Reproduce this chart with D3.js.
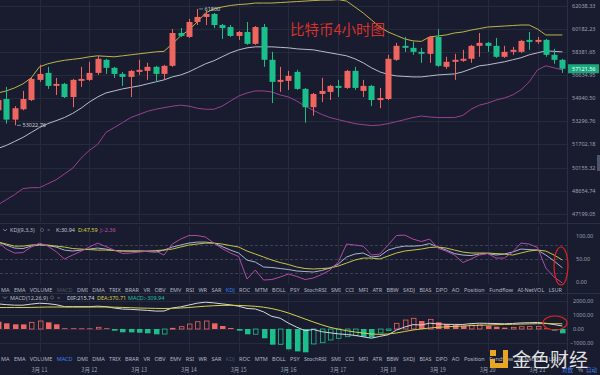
<!DOCTYPE html>
<html>
<head>
<meta charset="utf-8">
<script src="https://cdn.jsdelivr.net/npm/d3@7"></script>
<style>
  html, body { margin: 0; padding: 0; background: #181c2e; }
  svg { display: block; font-family: "Noto Sans", "Noto Sans CJK SC", sans-serif; }
</style>
</head>
<body>
<div id="chart"></div>
<script>
// candles, 4h each
const opens = [54081, 54889, 53421, 54155, 54815, 56289, 56809, 55846, 55994, 55036,
  56215, 56289, 56809, 57797, 57189, 56733, 56510, 56885, 56961, 57265,
  56733, 57341, 59873, 59564, 60747, 61150, 61392, 60505, 60344, 59641,
  59950, 59023, 60344, 57797, 56141, 56215, 56885, 55625, 54301, 55257,
  55404, 55846, 55699, 56961, 55478, 55846, 54815, 54889, 57797, 58868,
  58714, 58405, 58253, 59564, 57265, 57645, 57721, 57873, 58868, 59100,
  58868, 58025, 58405, 58405, 59332, 59177, 59332, 58177, 57797];
const highs = [55183, 55773, 54375, 55478, 56436, 57417, 57265, 56436, 56068, 56362,
  57265, 57645, 58101, 57873, 57265, 56885, 57037, 57797, 57569, 57341,
  57417, 60182, 60263, 60989, 61800, 61635, 61473, 60585, 60505, 60027,
  60747, 60424, 60585, 58405, 57265, 56961, 57037, 55699, 55330, 56436,
  55920, 56289, 57037, 57265, 56289, 55920, 55699, 58177, 59100, 59564,
  59177, 58714, 59641, 60182, 58025, 58253, 58560, 58946, 59873, 59177,
  59486, 58868, 58791, 59332, 59950, 59564, 59409, 58637, 57873];
const lows = [53934, 53140, 53022.76, 54081, 54742, 56141, 55625, 55183, 54962, 54301,
  55773, 56215, 56657, 56733, 56436, 55846, 55036, 56657, 56289, 56141,
  56289, 57265, 59564, 59486, 60505, 60505, 60263, 59409, 59564, 59332,
  58946, 58946, 57265, 54595, 55404, 55552, 55552, 53201, 53707, 54668,
  54815, 55036, 55625, 55552, 55036, 54375, 54228, 54815, 57721, 58405,
  58177, 57569, 57569, 57265, 57113, 56289, 57645, 57569, 58025, 58405,
  57949, 57949, 58177, 58329, 58560, 59023, 58025, 57493, 56809];
const closes = [54815, 53421, 54228, 54889, 56362, 56733, 55846, 55994, 55036, 56289,
  56362, 56809, 57873, 57189, 56733, 56510, 56961, 57037, 57265, 56733,
  57341, 59873, 59641, 60747, 61150, 61392, 60505, 60263, 59641, 59950,
  59023, 60344, 57797, 56141, 56289, 56583, 55625, 54301, 55257, 55478,
  55846, 55699, 56961, 55699, 55846, 54815, 54962, 57873, 58868, 58714,
  58405, 58253, 59564, 57341, 57645, 57797, 57873, 58868, 59100, 58868,
  58025, 58405, 58560, 59255, 59177, 59332, 58177, 57797, 57121.56];

// bollinger bands
const bollUp = [55330, 55478, 55699, 55994, 56436, 57265, 57493, 57645, 57759, 57835,
  57911, 58025, 58101, 58063, 58025, 58101, 58177, 58253, 58329, 58404,
  58443, 59023, 59641, 60105, 60747, 61473, 61796, 61957, 62078, 62159,
  62199, 62280, 62280, 62280, 62320, 62361, 62401, 62442, 62482, 62522,
  62522, 62563, 62442, 61957, 61473, 60908, 60344, 59950, 59680, 59409,
  59254, 59216, 59564, 59641, 59718, 59873, 59950, 60105, 60222, 60344,
  60384, 60424, 60464, 60505, 60505, 60182, 59718, 59718, 59718];
const bollMid = [51436, 51636, 51908, 52182, 52524, 52866, 53140, 53347, 53567, 53861,
  54228, 54668, 55036, 55330, 55478, 55625, 55736, 55846, 55994, 56141,
  56289, 56510, 56657, 56885, 57189, 57493, 57721, 58025, 58329, 58559,
  58713, 58791, 58791, 58791, 58752, 58713, 58636, 58597, 58559, 58443,
  58329, 58215, 58101, 57873, 57569, 57189, 56885, 56695, 56583, 56547,
  56510, 56510, 56583, 56657, 56695, 56733, 56885, 57113, 57341, 57417,
  57531, 57645, 57797, 57949, 58177, 58329, 58481, 58443, 58404];
const bollLow = [47758, 48078, 48399, 48782, 48845, 48845, 49098, 49351, 49731, 50111,
  50772, 51304, 51702, 52524, 52866, 53208, 53567, 53788, 54008, 54155,
  54265, 54375, 54448, 54375, 54228, 54155, 54155, 54375, 54742, 55109,
  55330, 55478, 55478, 55404, 55183, 55036, 54742, 54375, 54081, 53788,
  53567, 53421, 53276, 53140, 53071, 53003, 53037, 53140, 53276, 53421,
  53567, 53677, 53604, 53567, 53567, 53567, 53714, 54155, 54448, 54595,
  54815, 54962, 55183, 55552, 56141, 57037, 57341, 57189, 57037];

// KDJ(9,3,3)
const kLine = [86.8, 80.3, 73.8, 72.7, 78, 80.3, 79.2, 76, 69.4, 67.3,
  69.4, 71.6, 73.8, 71.6, 68.4, 67.3, 67.3, 67.3, 66.2, 65.1,
  69.4, 76, 80.3, 84.6, 86.8, 86.8, 84.6, 77, 69.4, 63,
  47.7, 43.4, 32.6, 31.5, 29.3, 27.1, 23.9, 22.8, 21.7, 25,
  30.4, 39, 54.3, 60.8, 63, 54.3, 56.4, 69.4, 75, 78,
  78, 79.2, 83.5, 76, 69.4, 61.8, 58.6, 57.5, 60.8, 61.8,
  58.6, 60.8, 65.1, 71.6, 70.5, 69.4, 58.6, 45.6, 30.94];
const dLine = [86.8, 82.5, 78, 78, 80.3, 81.4, 80.3, 78, 76, 72.7,
  71.6, 70.5, 69.4, 69.4, 68.4, 67.3, 67.3, 67.3, 67.3, 68.4,
  69.4, 71.6, 76, 80.3, 82.5, 84.6, 84.6, 82.5, 79.2, 76,
  67.3, 60.8, 54.3, 47.7, 42.3, 38, 32.6, 29.3, 28.2, 29.3,
  30.4, 34.7, 41.2, 47.7, 52, 52, 50, 56.4, 63, 67.3,
  69.4, 71.6, 75, 76, 73.8, 69.4, 65.1, 63, 63, 63,
  61.8, 60.8, 58.6, 63, 67.3, 69.4, 67.3, 58.6, 47.59];
const jLine = [86.8, 71.6, 62.9, 64, 76, 84.6, 78, 66, 50, 58.6,
  67, 76, 84.6, 77, 69.4, 62, 63, 65, 67, 67,
  58.6, 82.5, 93.3, 101, 101, 97.7, 84.6, 72.7, 63, 55.3,
  6.5, 26, 4.3, 5.4, 10.9, 17.4, 12, 5.4, 8.7, 16.3,
  26, 43.4, 82.5, 80.3, 78, 58.6, 60.8, 80.3, 101, 102,
  93.3, 88, 93.3, 73.8, 67, 58.6, 42.3, 50, 58.6, 61.8,
  52, 52, 65, 84.6, 82.5, 75, 30.4, 10.9, -2.36];

// MACD(12,26,9)
const difLine = [1795, 1738, 1703, 1700, 1780, 1842, 1809, 1739, 1596, 1596,
  1594, 1594, 1631, 1596, 1497, 1424, 1401, 1366, 1330, 1281,
  1284, 1503, 1582, 1713, 1845, 1913, 1867, 1793, 1727, 1625,
  1466, 1433, 1224, 897, 773, 417, 128, -119, -35, -190,
  -272, -347, -396, -454, -561, -655, -529, -412, -83, 141,
  312, 285, 416, 361, 335, 329, 322, 386, 414, 404,
  390, 369, 396, 433, 449, 468, 411, 318, 215.74];
const deaLine = [1535, 1535, 1535, 1535, 1542, 1557, 1571, 1571, 1571, 1571,
  1571, 1571, 1571, 1571, 1557, 1542, 1521, 1499, 1485, 1471,
  1464, 1478, 1499, 1535, 1585, 1628, 1664, 1685, 1692, 1685,
  1656, 1621, 1557, 1457, 1321, 1142, 928, 714, 500, 300,
  121, -14, -121, -214, -286, -357, -386, -357, -286, -179,
  -71, 0, 71, 121, 157, 186, 214, 243, 264, 286,
  307, 321, 336, 350, 364, 378, 386, 378, 370.71];
const macdHist = [520, 405, 335, 330, 475, 570, 475, 335, 50, 50,
  45, 45, 120, 50, -120, -235, -240, -265, -310, -380,
  -360, 50, 165, 355, 520, 570, 405, 215, 70, -120,
  -380, -375, -665, -1120, -1095, -1450, -1600, -1665, -1070, -980,
  -785, -665, -550, -480, -550, -595, -285, -110, 405, 640,
  765, 570, 690, 480, 355, 285, 215, 285, 300, 235,
  165, 95, 120, 165, 170, 180, 50, -120, -309.94];

// axes
const priceTicks = [62038.33, 60182.23, 58381.65, 56634.95, 54940.50, 53296.76, 51702.18, 50155.32, 48654.74, 47199.05];
const kdjTicks = [100, 50, 0];
const kdjLevels = [80, 50, 20];
const macdTicks = [2000, 1000, 0, -1000];
const dayLabels = ['3月 11', '3月 12', '3月 13', '3月 14', '3月 15', '3月 16', '3月 17', '3月 18', '3月 19', '3月 20', '3月 21'];
const dayIndex = [5, 11, 17, 23, 29, 35, 41, 47, 53, 59, 65];
const tabs = ['MA', 'EMA', 'VOLUME', 'MACD', 'DMI', 'DMA', 'TRIX', 'BRAR', 'VR', 'OBV', 'EMV', 'RSI', 'WR', 'SAR', 'KDJ', 'ROC', 'MTM', 'BOLL', 'PSY', 'StochRSI', 'SMI', 'CCI', 'MFI', 'ATR', 'BBW', 'SKDJ', 'BIAS', 'DPO', 'AO', 'Position', 'Fundflow', 'AI-NetVOL', 'LSUR'];

const chart = {

    svg: null,
    plotRight: 567,
    upColor: '#ef6560',
    downColor: '#1bbf8b',
    gridColor: '#252a3d',
    textColor: '#9ba0b2',

    x: d3.scaleLinear().domain([0, closes.length - 1]).range([-2, 562.4]),
    yPrice: d3.scaleLog().domain([47199.05, 62038.33]).range([213.7, 6]),
    yKdj: d3.scaleLinear().domain([0, 100]).range([282, 236]),
    yMacd: d3.scaleLinear().domain([-1000, 2000]).range([343, 301]),

    drawGrid: function () {
        const svg = this.svg;
        //horizontal lines on price ticks
        svg.append('g').selectAll('line').data(priceTicks).enter().append('line')
            .attr('x1', 0).attr('x2', this.plotRight)
            .attr('y1', (d) => Math.round(this.yPrice(d)) + 0.5)
            .attr('y2', (d) => Math.round(this.yPrice(d)) + 0.5)
            .attr('stroke', this.gridColor);
        //vertical lines on day boundaries, through all three panels
        [[0, 222], [226, 284], [294, 352]].forEach((band) => {
            svg.append('g').selectAll('line').data(dayIndex).enter().append('line')
                .attr('x1', (d) => Math.round(this.x(d)) + 0.5)
                .attr('x2', (d) => Math.round(this.x(d)) + 0.5)
                .attr('y1', band[0]).attr('y2', band[1])
                .attr('stroke', this.gridColor);
        });
        svg.append('g').selectAll('line').data(macdTicks).enter().append('line')
            .attr('x1', 0).attr('x2', this.plotRight)
            .attr('y1', (d) => Math.round(this.yMacd(d)) + 0.5)
            .attr('y2', (d) => Math.round(this.yMacd(d)) + 0.5)
            .attr('stroke', this.gridColor);
        //panel separators and price column edge
        [223.5, 293.5].forEach((y) => {
            svg.append('line').attr('x1', 0).attr('x2', 600).attr('y1', y).attr('y2', y)
                .attr('stroke', '#2a2f43');
        });
        svg.append('line').attr('x1', this.plotRight + 0.5).attr('x2', this.plotRight + 0.5)
            .attr('y1', 0).attr('y2', 352).attr('stroke', '#2a2f43');
    },

    drawMain: function () {
        const x = this.x, y = this.yPrice;
        const svg = this.svg;

        svg.append('clipPath').attr('id', 'mainClip')
            .append('rect').attr('x', 0).attr('y', 0).attr('width', this.plotRight).attr('height', 223);
        const g = svg.append('g').attr('clip-path', 'url(#mainClip)');

        //bollinger lines
        const bands = [[bollUp, '#bdb449'], [bollMid, '#b9bccb'], [bollLow, '#9b3f92']];
        bands.forEach((b) => {
            g.append('path').datum(b[0])
                .attr('d', d3.line().x((d, i) => x(i)).y((d) => y(d)))
                .attr('fill', 'none').attr('stroke', b[1]).attr('stroke-width', 1);
        });

        const idx = d3.range(closes.length);
        const color = (i) => closes[i] >= opens[i] ? this.upColor : this.downColor;

        g.append('g').selectAll('line').data(idx).enter().append('line')
            .attr('x1', (i) => Math.round(x(i)) + 0.5)
            .attr('x2', (i) => Math.round(x(i)) + 0.5)
            .attr('y1', (i) => y(highs[i]))
            .attr('y2', (i) => y(lows[i]))
            .attr('stroke', color);

        g.append('g').selectAll('rect').data(idx).enter().append('rect')
            .attr('x', (i) => Math.round(x(i)) - 2.5)
            .attr('width', 6)
            .attr('y', (i) => y(Math.max(opens[i], closes[i])))
            .attr('height', (i) => Math.max(1, y(Math.min(opens[i], closes[i])) - y(Math.max(opens[i], closes[i]))))
            .attr('fill', color);

        //high and low markers
        const hi = d3.maxIndex(highs), lo = d3.minIndex(lows);
        [[hi, highs[hi], 0], [lo, lows[lo], 0]].forEach((m) => {
            const mx = Math.round(x(m[0])) + 2, my = y(m[1]);
            g.append('line').attr('x1', mx).attr('x2', mx + 4).attr('y1', my).attr('y2', my)
                .attr('stroke', '#c8ccd8').attr('stroke-width', 0.6);
            g.append('text').attr('x', mx + 5.5).attr('y', my + 2)
                .attr('font-size', 5.5).attr('fill', '#c8ccd8')
                .text(m[1] % 1 ? d3.format('.2f')(m[1]) : m[1]);
        });

        //title
        svg.append('text').attr('x', 290).attr('y', 35)
            .attr('font-family', '"Noto Sans CJK SC", sans-serif')
            .attr('font-size', 14.5).attr('fill', '#d8302c')
            .text('比特币4小时图');

        //price axis
        svg.append('g').selectAll('text').data(priceTicks).enter().append('text')
            .attr('x', 572).attr('y', (d) => y(d) + 2)
            .attr('font-size', 5.5).attr('fill', this.textColor)
            .text((d) => d3.format('.2f')(d));

        const last = closes[closes.length - 1];
        svg.append('rect').attr('x', 568).attr('y', y(last) - 4.5).attr('width', 31).attr('height', 9)
            .attr('fill', '#17a97b');
        svg.append('text').attr('x', 572).attr('y', y(last) + 2)
            .attr('font-size', 5.5).attr('fill', '#ffffff')
            .text(d3.format('.2f')(last));

        svg.append('rect').attr('x', 597).attr('y', 155).attr('width', 3).attr('height', 16)
            .attr('fill', '#4d536a');
    },

    drawLegend: function (y, name, items) {
        const svg = this.svg;
        svg.append('path').attr('d', `M3,${y - 3} l2,2 l2,-2`).attr('fill', 'none')
            .attr('stroke', this.textColor).attr('stroke-width', 0.7);
        svg.append('text').attr('x', 10).attr('y', y).attr('font-size', 5.5)
            .attr('fill', '#b9bdca').text(name.text);
        svg.append('circle').attr('cx', name.gear).attr('cy', y - 2).attr('r', 1.6)
            .attr('fill', 'none').attr('stroke', '#6d7388').attr('stroke-width', 0.6);
        svg.append('text').attr('x', name.gear + 5).attr('y', y).attr('font-size', 5.5)
            .attr('fill', '#6d7388').text('×');
        items.forEach((it) => {
            svg.append('text').attr('x', it.x).attr('y', y).attr('font-size', 5.5)
                .attr('fill', it.c).text(it.t);
        });
    },

    drawKdj: function () {
        const x = this.x, y = this.yKdj;
        const svg = this.svg;

        svg.append('g').selectAll('line').data(kdjLevels).enter().append('line')
            .attr('x1', 0).attr('x2', this.plotRight)
            .attr('y1', (d) => Math.round(y(d)) + 0.5).attr('y2', (d) => Math.round(y(d)) + 0.5)
            .attr('stroke', '#3a4057').attr('stroke-dasharray', '3,2');

        [[kLine, '#a9b3d4'], [dLine, '#c9c448'], [jLine, '#b24aa8']].forEach((l) => {
            svg.append('path').datum(l[0])
                .attr('d', d3.line().x((d, i) => x(i)).y((d) => y(d)))
                .attr('fill', 'none').attr('stroke', l[1]).attr('stroke-width', 1);
        });

        svg.append('g').selectAll('text').data(kdjTicks).enter().append('text')
            .attr('x', 576).attr('y', (d) => y(d) + 2)
            .attr('font-size', 5.5).attr('fill', this.textColor)
            .text((d) => d3.format('.2f')(d));

        const n = kLine.length - 1;
        this.drawLegend(232, { text: 'KDJ(9,3,3)', gear: 42 }, [
            { t: 'K:' + kLine[n], x: 56, c: '#c5c9d6' },
            { t: 'D:' + dLine[n], x: 78, c: '#d8d24a' },
            { t: 'J:' + jLine[n], x: 100, c: '#c051b5' }
        ]);

        //red marker around the last values
        svg.append('ellipse').attr('cx', 561).attr('cy', 266).attr('rx', 7).attr('ry', 19)
            .attr('fill', 'none').attr('stroke', '#e0241d').attr('stroke-width', 1.2);
    },

    drawMacd: function () {
        const x = this.x, y = this.yMacd;
        const svg = this.svg;
        const idx = d3.range(macdHist.length);
        const zero = y(0);

        //hollow when the bar grows against the previous one
        const hollow = (i) => i > 0 && macdHist[i] > macdHist[i - 1];
        const color = (i) => macdHist[i] >= 0 ? this.upColor : this.downColor;

        svg.append('g').selectAll('rect').data(idx).enter().append('rect')
            .attr('x', (i) => Math.round(x(i)) - 2 + (hollow(i) ? 0.5 : 0))
            .attr('width', (i) => hollow(i) ? 4.5 : 5.5)
            .attr('y', (i) => Math.min(zero, y(macdHist[i])))
            .attr('height', (i) => Math.max(0.8, Math.abs(y(macdHist[i]) - zero)))
            .attr('fill', (i) => hollow(i) ? 'none' : color(i))
            .attr('stroke', (i) => hollow(i) ? color(i) : 'none')
            .attr('stroke-width', 0.8);

        [[difLine, '#d4d7e3'], [deaLine, '#d8cf4a']].forEach((l) => {
            svg.append('path').datum(l[0])
                .attr('d', d3.line().x((d, i) => x(i)).y((d) => y(d)))
                .attr('fill', 'none').attr('stroke', l[1]).attr('stroke-width', 1);
        });

        svg.append('g').selectAll('text').data(macdTicks).enter().append('text')
            .attr('x', (d) => d < 0 ? 570 : 573).attr('y', (d) => y(d) + 2)
            .attr('font-size', 5.5).attr('fill', this.textColor)
            .text((d) => d3.format('.2f')(d));

        const n = macdHist.length - 1;
        this.drawLegend(299.5, { text: 'MACD(12,26,9)', gear: 52 }, [
            { t: 'DIF:' + difLine[n], x: 67, c: '#d4d7e3' },
            { t: 'DEA:' + deaLine[n], x: 97, c: '#d8d24a' },
            { t: 'MACD:' + macdHist[n], x: 128, c: '#1fc3a0' }
        ]);

        svg.append('ellipse').attr('cx', 555).attr('cy', 323).attr('rx', 12).attr('ry', 7)
            .attr('fill', 'none').attr('stroke', '#e0241d').attr('stroke-width', 1.2);
    },

    drawTabs: function (y, active, dimmed) {
        const g = this.svg.append('g').attr('font-size', 5.5);
        const items = g.selectAll('text').data(tabs).enter().append('text')
            .attr('y', y)
            .attr('fill', (d) => d === active ? '#3d7ff5' : d === dimmed ? '#4d546a' : '#b3b7c5')
            .text((d) => d);
        let widths = [];
        items.each(function () { widths.push(this.getComputedTextLength()); });
        const gap = (561 - d3.sum(widths)) / (tabs.length - 1);
        let pos = 1;
        items.attr('x', (d, i) => { let p = pos; pos += widths[i] + gap; return p; });
    },

    drawDates: function () {
        this.svg.append('g').selectAll('text').data(dayIndex).enter().append('text')
            .attr('x', (d) => this.x(d)).attr('y', 371.5)
            .attr('text-anchor', 'middle')
            .attr('font-family', '"Noto Sans CJK SC", sans-serif')
            .attr('font-size', 5.5).attr('fill', this.textColor)
            .text((d, i) => dayLabels[i]);

        const g = this.svg.append('g').attr('font-family', '"Noto Sans CJK SC", sans-serif').attr('font-size', 5.5);
        g.append('text').attr('x', 562).attr('y', 371.5).attr('fill', '#4b7ff0').text('对数');
        g.append('text').attr('x', 578).attr('y', 371.5).attr('fill', '#b3b7c5').text('%');
        g.append('text').attr('x', 586).attr('y', 371.5).attr('fill', '#4b7ff0').text('自动');
    },

    drawWatermark: function () {
        const g = this.svg.append('g');
        const gold = '#e9a623';
        g.append('rect').attr('x', 490).attr('y', 350).attr('width', 6).attr('height', 6).attr('fill', gold);
        g.append('rect').attr('x', 503).attr('y', 350).attr('width', 5).attr('height', 18).attr('fill', gold);
        g.append('rect').attr('x', 490).attr('y', 363).attr('width', 18).attr('height', 5).attr('fill', gold);
        g.append('rect').attr('x', 490).attr('y', 359).attr('width', 5).attr('height', 9).attr('fill', gold);
        g.append('text').attr('x', 512).attr('y', 367)
            .attr('font-family', '"Noto Sans CJK SC", sans-serif')
            .attr('font-size', 19).attr('fill', 'rgba(255,255,255,0.88)')
            .text('金色财经');
    },

    draw: function () {
        this.svg = d3.select('#chart').append('svg')
            .attr('width', 600).attr('height', 375);
        this.svg.append('rect').attr('width', 600).attr('height', 375).attr('fill', '#181c2e');

        this.drawGrid();
        this.drawMain();
        this.drawKdj();
        this.drawTabs(292, 'KDJ', 'MACD');
        this.drawMacd();
        this.drawTabs(361, 'MACD', 'KDJ');
        this.drawDates();
        this.drawWatermark();
    }
};

chart.draw();
</script>
</body>
</html>
